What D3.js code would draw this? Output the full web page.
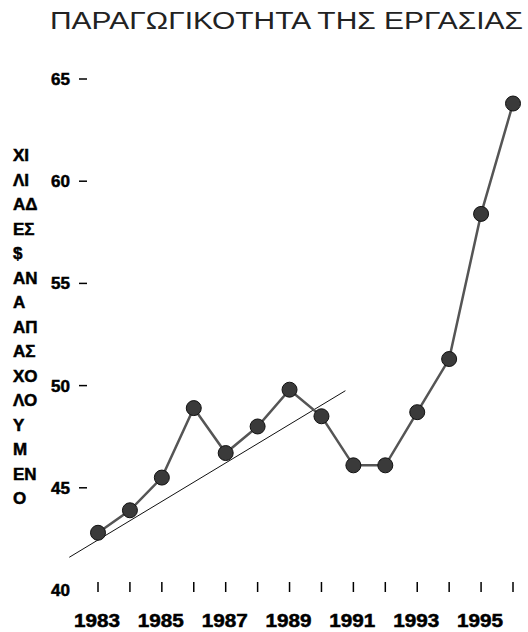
<!DOCTYPE html>
<html><head><meta charset="utf-8">
<script src="https://cdn.jsdelivr.net/npm/d3@7"></script>
<style>body{margin:0;background:#fff}svg{display:block}</style>
</head><body>
<script>
const title = "ΠΑΡΑΓΩΓΙΚΟΤΗΤΑ ΤΗΣ ΕΡΓΑΣΙΑΣ";
const yLabelLines = ["ΧΙ","ΛΙ","ΑΔ","ΕΣ","$","ΑΝ","Α","ΑΠ","ΑΣ","ΧΟ","ΛΟ","Υ","Μ","ΕΝ","Ο"];
const years = [1983,1984,1985,1986,1987,1988,1989,1990,1991,1992,1993,1994,1995,1996];
const values = [42.8,43.9,45.5,48.9,46.7,48.0,49.8,48.5,46.1,46.1,48.7,51.3,58.4,63.8];
const trendYears = [1982.1, 1990.75];
const trendValues = [41.6, 49.75];
const yTicks = [40,45,50,55,60,65];
const xTickLabels = [1983,1985,1987,1989,1991,1993,1995];

const W=528,H=632;
const svg=d3.select("body").append("svg").attr("width",W).attr("height",H);
const x=d3.scaleLinear().domain([1983,1996]).range([98,513]);
const y=d3.scaleLinear().domain([40,65]).range([590,79]);

svg.append("text").attr("x",523).attr("y",29).attr("text-anchor","end")
  .attr("font-family","Liberation Sans, Arial, sans-serif").attr("font-size",24.5)
  .attr("fill","#222").attr("textLength",473).attr("lengthAdjust","spacingAndGlyphs").text(title);

const bold="'Liberation Sans', Arial, sans-serif";
// y label stacked
svg.append("g").selectAll("text").data(yLabelLines).join("text")
  .attr("x",13).attr("y",(d,i)=>161+i*24.5)
  .attr("font-family",bold).attr("font-weight","bold").attr("font-size",17)
  .attr("fill","#000").attr("stroke","#000").attr("stroke-width",0.5).text(d=>d);

// y ticks
const yg=svg.append("g");
yg.selectAll("text").data(yTicks).join("text")
  .attr("x",70).attr("y",d=>y(d)+6).attr("text-anchor","end")
  .attr("font-family",bold).attr("font-weight","bold").attr("font-size",17)
  .attr("fill","#000").attr("stroke","#000").attr("stroke-width",0.5).text(d=>d);
yg.selectAll("line").data(yTicks.filter(d=>d>40)).join("line")
  .attr("x1",79).attr("x2",87).attr("y1",d=>y(d)).attr("y2",d=>y(d))
  .attr("stroke","#000").attr("stroke-width",1.5);

// x ticks
const xg=svg.append("g");
xg.selectAll("line").data(years).join("line")
  .attr("x1",d=>x(d)).attr("x2",d=>x(d)).attr("y1",582).attr("y2",592)
  .attr("stroke","#000").attr("stroke-width",1.5);
xg.selectAll("text").data(xTickLabels).join("text")
  .attr("x",d=>x(d)-1).attr("y",627).attr("text-anchor","middle")
  .attr("font-family",bold).attr("font-weight","bold").attr("font-size",17.5)
  .attr("textLength",46).attr("lengthAdjust","spacingAndGlyphs")
  .attr("fill","#000").attr("stroke","#000").attr("stroke-width",0.5).text(d=>d);

// trend line
svg.append("path").datum(trendYears.map((t,i)=>[t,trendValues[i]]))
  .attr("d",d3.line().x(d=>x(d[0])).y(d=>y(d[1])))
  .attr("stroke","#111").attr("stroke-width",1).attr("fill","none");

// data line
const pts=years.map((t,i)=>[t,values[i]]);
svg.append("path").datum(pts)
  .attr("d",d3.line().x(d=>x(d[0])).y(d=>y(d[1])))
  .attr("stroke","#555").attr("stroke-width",2.5).attr("fill","none");
svg.append("g").selectAll("circle").data(pts).join("circle")
  .attr("cx",d=>x(d[0])).attr("cy",d=>y(d[1])).attr("r",7.5)
  .attr("fill","#3a3a3a").attr("stroke","#111").attr("stroke-width",1);
</script>
</body></html>
